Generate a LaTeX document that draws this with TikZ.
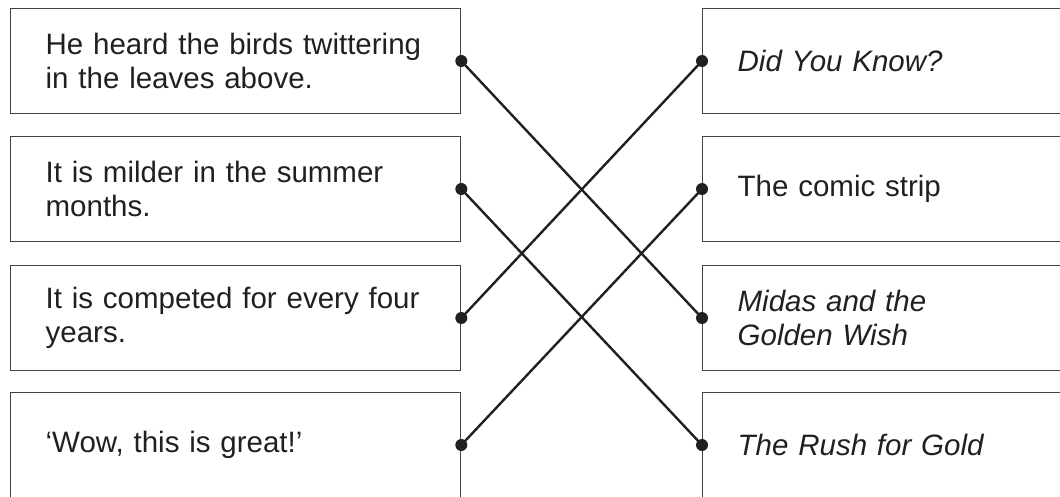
\documentclass[tikz,border=0pt]{standalone}
\usepackage{fontspec}
\setmainfont{Liberation Sans}
\usetikzlibrary{positioning}
\definecolor{ink}{HTML}{231F20}
\tikzset{
  leftbox/.style={draw=ink!85, line width=1.3pt, text=ink, anchor=west,
    minimum width=450pt, minimum height=105pt, text width=380pt,
    inner xsep=35pt, align=left, font=\fontsize{29.5}{34}\selectfont},
  rightbox/.style={leftbox, minimum width=362pt, text width=292pt},
  link/.style={ink, line width=2.4pt},
  joint/.style={fill=ink}
}
\begin{document}
\begin{tikzpicture}[x=1pt, y=-1pt]
\clip (0,0) rectangle (1060,496);
\node[leftbox] (h1) at (10,61) {He heard the birds twittering\\in the leaves above.};
\node[leftbox] (h2) at (10,189) {It is milder in the summer\\months.};
\node[leftbox] (h3) at (10,318) {It is competed for every four\\years.};
\node[leftbox] (h4) at (10,445) {`Wow, this is great!'};
\node[rightbox] (t1) at (702,61) {\textit{Did You Know?}};
\node[rightbox] (t2) at (702,189) {The comic strip};
\node[rightbox] (t3) at (702,318) {\textit{Midas and the\\Golden Wish}};
\node[rightbox] (t4) at (702,445) {\textit{The Rush for Gold}};
\draw[link] (h1.east) -- (t3.west);
\draw[link] (h2.east) -- (t4.west);
\draw[link] (h3.east) -- (t1.west);
\draw[link] (h4.east) -- (t2.west);
\foreach \n in {h1,h2,h3,h4} \fill[joint] (\n.east) circle (6pt);
\foreach \n in {t1,t2,t3,t4} \fill[joint] (\n.west) circle (6pt);
\end{tikzpicture}
\end{document}
